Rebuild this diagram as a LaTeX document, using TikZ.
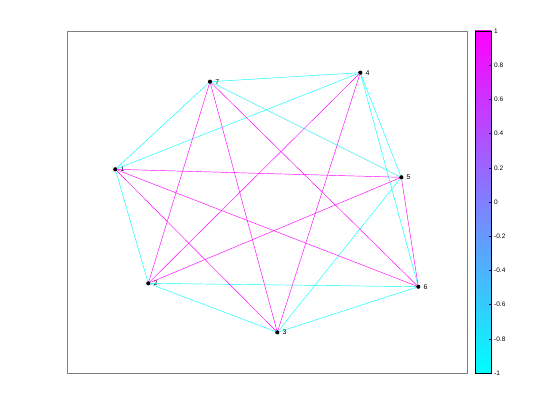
\documentclass[tikz,border=0pt]{standalone}
\usepackage{fontspec}
\setmainfont{Liberation Sans}
\usepackage{tikz}
\definecolor{cmcyan}{RGB}{0,255,255}
\definecolor{cmmagenta}{RGB}{255,0,255}
\begin{document}
\begin{tikzpicture}[x=1pt,y=-1pt,
  vert/.style={circle,fill=black,inner sep=0pt,minimum size=4.2pt},
  vlabel/.style={font=\fontsize{7}{7}\selectfont,anchor=west,inner sep=0pt},
  ticklabel/.style={font=\fontsize{6.5}{6.5}\selectfont,anchor=west,inner sep=0pt},
  negedge/.style={cmcyan,line width=0.45pt},
  posedge/.style={cmmagenta,line width=0.45pt}]
\useasboundingbox (0,0) rectangle (560,420);
\draw[gray,line width=0.9pt] (67,31) rectangle (467,373);

\node[vert] (n1) at (115.3,169.3) {};
\node[vert] (n2) at (148.3,283.3) {};
\node[vert] (n3) at (277.3,332.3) {};
\node[vert] (n4) at (360.3,72.7) {};
\node[vert] (n5) at (401.3,177.3) {};
\node[vert] (n6) at (418.3,286.7) {};
\node[vert] (n7) at (210,81.7) {};
\foreach \i in {1,...,7}
  \node[vlabel] (l\i) at ([xshift=2.8pt]n\i.east) {\i};

\foreach \a/\b in {7/4,7/1,7/5,1/4,1/2,4/5,4/6,2/6,2/3,3/6,3/5}
  \draw[negedge] (n\a) -- (n\b);
\foreach \a/\b in {7/2,7/3,7/6,4/2,4/3,1/5,1/6,1/3,2/5,5/6}
  \draw[posedge] (n\a) -- (n\b);

\shade[bottom color=cmcyan,top color=cmmagenta] (475,31) rectangle (491,373);
\draw[black,line width=0.6pt] (475,31) rectangle (491,373);
\foreach \v/\t in {-1/-1,-0.8/-0.8,-0.6/-0.6,-0.4/-0.4,-0.2/-0.2,0/0,0.2/0.2,0.4/0.4,0.6/0.6,0.8/0.8,1/1} {
  \draw[blue!40!black,line width=0.5pt] (491,{373-(\v+1)*171}) -- ++(-2,0);
  \node[ticklabel] at (494,{373-(\v+1)*171}) {\t};
}
\end{tikzpicture}
\end{document}
